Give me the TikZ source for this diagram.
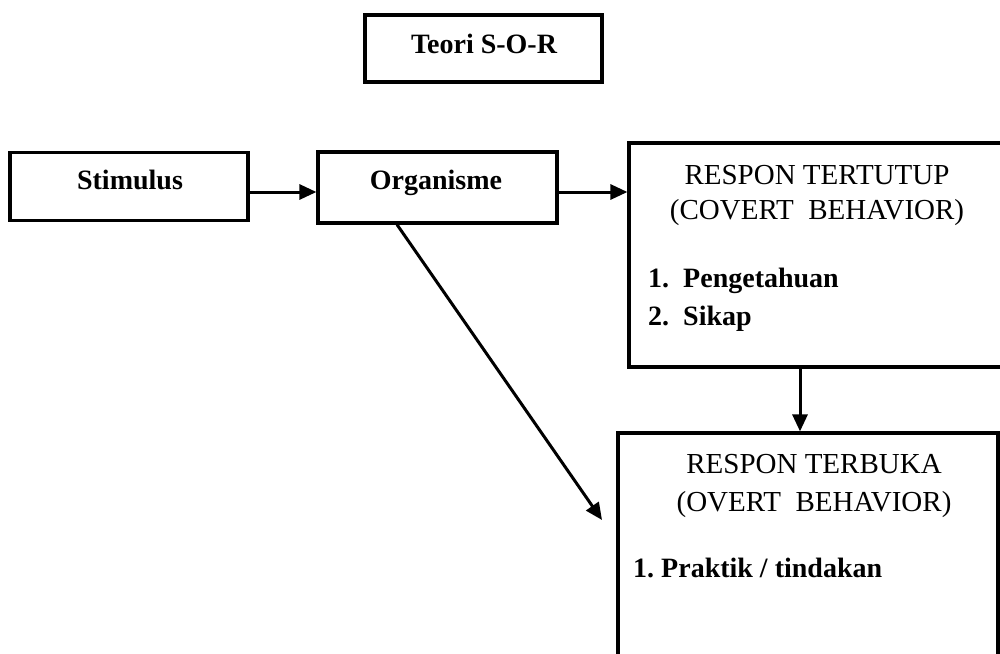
\documentclass[tikz,border=0pt]{standalone}
\usepackage{fontspec}
\setmainfont{Liberation Serif}
\usetikzlibrary{arrows.meta}
\begin{document}
\begin{tikzpicture}[x=1pt,y=-1pt,
  box/.style={draw,line width=3.2pt,minimum width=#1,inner sep=0pt},
  lbl/.style={font=\fontsize{28}{32}\selectfont\bfseries,inner sep=0pt},
  head/.style={font=\fontsize{29}{33}\selectfont,inner sep=0pt},
  item/.style={font=\fontsize{28}{32}\selectfont\bfseries,inner sep=0pt,anchor=base west},
  arr/.style={line width=3pt,-{Triangle[length=17pt,width=15pt]}}]
\useasboundingbox (0,0) rectangle (1000,653);
\clip (0,0) rectangle (1000,653);

% boxes
\node[box=237pt,minimum height=67pt]  (title) at (483.5,48.5) {};
\node[box=238pt,minimum height=68pt]  (stim)  at (129,186.5) {};
\node[box=239pt,minimum height=71pt]  (org)   at (437.5,187.5) {};
\node[box=376pt,minimum height=224pt] (cov)   at (817,255) {};
\node[box=380pt,minimum height=237pt] (ovt)   at (808,551.5) {};

% texts
\node[lbl,anchor=base] (ttitle) at (484,53) {Teori S-O-R};
\node[lbl,anchor=base] (tstim)  at (130,189) {Stimulus};
\node[lbl,anchor=base] (torg)   at (436,189) {Organisme};

\node[head,anchor=base] (c1) at (817,184) {RESPON TERTUTUP};
\node[head,anchor=base] (c2) at (817,219) {(COVERT\ \ BEHAVIOR)};
\node[item] (c3) at (648,287) {1.\ \ Pengetahuan};
\node[item] (c4) at (648,325) {2.\ \ Sikap};

\node[head,anchor=base] (o1) at (814,473) {RESPON TERBUKA};
\node[head,anchor=base] (o2) at (814,511) {(OVERT\ \ BEHAVIOR)};
\node[item] (o3) at (633,577) {1.};
\node[item] (o4) at (661,577) {Praktik / tindakan};

% connectors
\coordinate (vx) at (800,0);
\coordinate (dtip) at (602,520);
\draw[arr] ([yshift=-5.5pt]stim.east) -- ([yshift=-4.5pt]org.west);
\draw[arr] ([yshift=-4.5pt]org.east) -- (cov.west |- 0,192);
\draw[arr] ([xshift=-40.5pt]org.south) -- (dtip);
\draw[arr] (cov.south -| vx) -- (ovt.north -| vx);
\end{tikzpicture}
\end{document}
